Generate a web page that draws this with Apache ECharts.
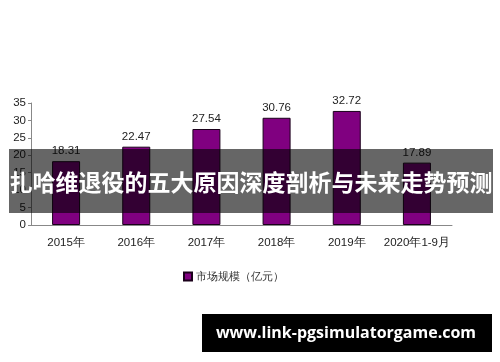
<!DOCTYPE html>
<html><head><meta charset="utf-8">
<script src="https://cdn.jsdelivr.net/npm/echarts@6/dist/echarts.min.js"></script>
<style>html,body{margin:0;padding:0;background:#fff}#c{width:500px;height:362px}</style>
</head><body><div id="c"></div>
<script>
const categories = ['2015年','2016年','2017年','2018年','2019年','2020年1-9月'];
const marketSize = [18.31, 22.47, 27.54, 30.76, 32.72, 17.89];
const seriesName = '市场规模（亿元）';
const yTicks = {min: 0, max: 35, interval: 5};
const overlayTitle = '扎哈维退役的五大原因深度剖析与未来走势预测';
const watermark = 'www.link-pgsimulatorgame.com';

const chart = echarts.init(document.getElementById('c'), null, {renderer: 'canvas'});
const fontFam = '"Liberation Sans", Arial, sans-serif';
chart.setOption({
  animation: false,
  grid: {left: 31, right: 48, top: 103, bottom: 137, containLabel: false},
  legend: {
    data: [seriesName], left: 178, top: 266, icon: 'rect', itemWidth: 8, itemHeight: 8, itemGap: 4,
    textStyle: {fontFamily: fontFam, fontSize: 11, color: '#333', padding: [0, 0, 0, -1]}
  },
  xAxis: {
    type: 'category', data: categories, boundaryGap: true,
    axisLine: {lineStyle: {color: '#888'}},
    axisTick: {inside: true, length: 3, lineStyle: {color: '#888'}},
    axisLabel: {interval: 0, fontFamily: fontFam, fontSize: 11.5, color: '#222', margin: 12}
  },
  yAxis: {
    type: 'value', min: yTicks.min, max: yTicks.max, interval: yTicks.interval,
    splitLine: {show: false},
    axisLine: {show: true, lineStyle: {color: '#888'}},
    axisTick: {show: true, length: 3, lineStyle: {color: '#888'}},
    axisLabel: {fontFamily: fontFam, fontSize: 11.5, color: '#222', margin: 5}
  },
  series: [{
    name: seriesName, type: 'bar', data: marketSize, barWidth: 28,
    itemStyle: {color: '#800080', borderColor: '#1a001a', borderWidth: 1},
    label: {show: true, position: 'top', distance: 4, fontFamily: fontFam, fontSize: 11.5, color: '#222'}
  }],
  graphic: [
    {type: 'rect', shape: {x: 9, y: 149, width: 484, height: 64}, style: {fill: 'rgba(0,0,0,0.6)'}, z: 100},
    {type: 'text', x: 251, y: 182, z: 101, style: {text: overlayTitle, fill: '#fff', font: 'bold 23px "Noto Sans CJK SC", sans-serif', align: 'center', verticalAlign: 'middle'}},
    {type: 'rect', shape: {x: 202, y: 314, width: 290, height: 38}, style: {fill: '#000'}, z: 100},
    {type: 'text', x: 346, y: 333, z: 101, style: {text: watermark, fill: '#fff', font: 'bold 16px "Open Sans", sans-serif', align: 'center', verticalAlign: 'middle'}}
  ]
});
</script></body></html>
